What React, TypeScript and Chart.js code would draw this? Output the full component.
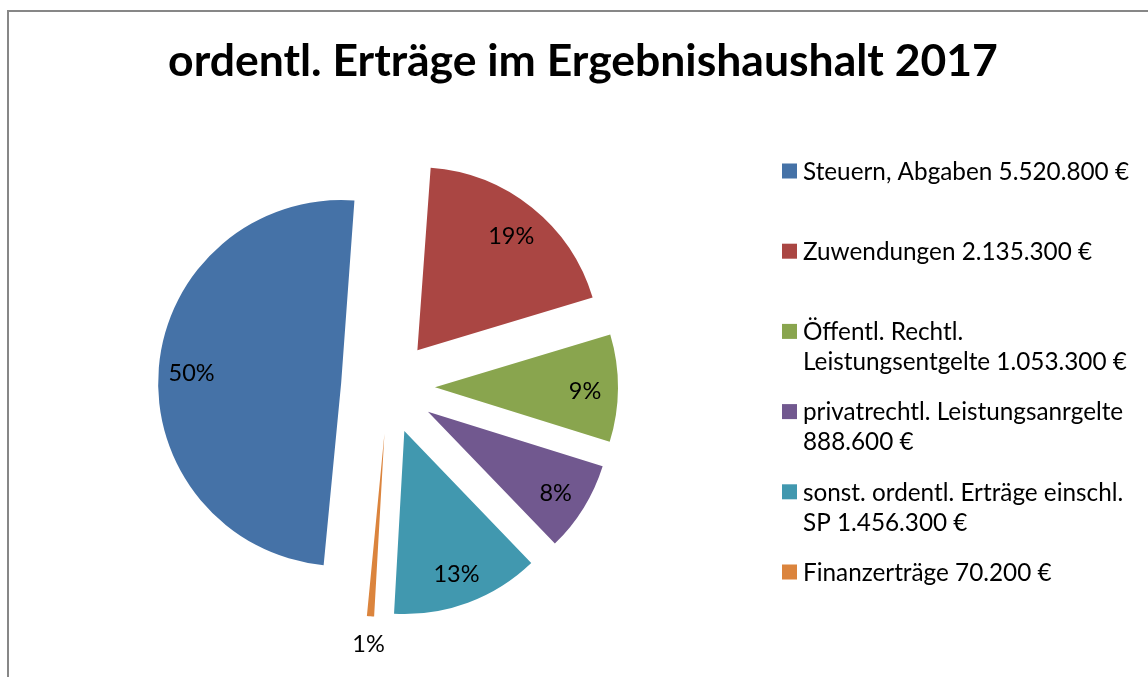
import { useEffect, useRef } from 'react';
import { Chart, registerables } from 'chart.js';

Chart.register(...registerables);

const chartTitle = 'ordentl. Erträge im Ergebnishaushalt 2017';
const categories = [
  'Steuern, Abgaben',
  'Zuwendungen',
  'Öffentl. Rechtl. Leistungsentgelte',
  'privatrechtl. Leistungsanrgelte',
  'sonst. ordentl. Erträge einschl. SP',
  'Finanzerträge',
];
const amounts = [5520800, 2135300, 1053300, 888600, 1456300, 70200];
const sliceColors = ['#4572A7', '#AA4643', '#89A54E', '#71588F', '#4198AF', '#DB843D'];

const EXPLODE = 47;
const FONT = 'Lato, "Open Sans", sans-serif';

function fmtEuro(n: number): string {
  return String(n).replace(/\B(?=(\d{3})+(?!\d))/g, '.') + ' €';
}

const total = amounts.reduce((a, b) => a + b, 0);

const frameAndTitle = {
  id: 'frameAndTitle',
  beforeDraw(chart: any) {
    const ctx = chart.ctx;
    ctx.save();
    ctx.fillStyle = '#ffffff';
    ctx.fillRect(0, 0, chart.width, chart.height);
    ctx.strokeStyle = '#878787';
    ctx.lineWidth = 2;
    ctx.beginPath();
    ctx.moveTo(8, chart.height + 5);
    ctx.lineTo(8, 11);
    ctx.lineTo(chart.width + 5, 11);
    ctx.stroke();
    ctx.restore();
  },
  afterDraw(chart: any) {
    const ctx = chart.ctx;
    ctx.save();
    ctx.fillStyle = '#000';
    ctx.font = `bold 44.5px ${FONT}`;
    ctx.textAlign = 'center';
    ctx.textBaseline = 'alphabetic';
    ctx.fillText(chartTitle, 583, 76);

    // legend
    ctx.font = `24.3px ${FONT}`;
    ctx.textAlign = 'left';
    ctx.textBaseline = 'middle';
    const textX = 803;
    const maxW = 340;
    categories.forEach((name, i) => {
      const text = `${name} ${fmtEuro(amounts[i])}`;
      const words = text.split(' ');
      const lines: string[] = [];
      let cur = '';
      words.forEach((w) => {
        const test = cur ? cur + ' ' + w : w;
        if (ctx.measureText(test).width > maxW && cur) {
          lines.push(cur);
          cur = w;
        } else {
          cur = test;
        }
      });
      if (cur) lines.push(cur);
      const y0 = 171 + i * 80.2;
      ctx.fillStyle = sliceColors[i];
      ctx.fillRect(782, y0 - 7.5, 15, 15);
      ctx.fillStyle = '#000';
      lines.forEach((ln, j) => ctx.fillText(ln, textX, y0 + 1 + j * 30));
    });
    ctx.restore();
  },
};

const explodePlugin = {
  id: 'explode',
  beforeDatasetDraw(chart: any, args: any) {
    const ctx = chart.ctx;
    args.meta.data.forEach((arc: any) => {
      const mid = (arc.startAngle + arc.endAngle) / 2;
      ctx.save();
      ctx.translate(Math.cos(mid) * EXPLODE, Math.sin(mid) * EXPLODE);
      arc.draw(ctx);
      ctx.restore();
    });
    return false;
  },
  afterDatasetsDraw(chart: any) {
    const ctx = chart.ctx;
    const meta = chart.getDatasetMeta(0);
    ctx.save();
    ctx.fillStyle = '#000';
    ctx.font = `23.5px ${FONT}`;
    ctx.textAlign = 'center';
    ctx.textBaseline = 'middle';
    meta.data.forEach((arc: any, i: number) => {
      const mid = (arc.startAngle + arc.endAngle) / 2;
      const frac = amounts[i] / total;
      const cx = arc.x + Math.cos(mid) * EXPLODE;
      const cy = arc.y + Math.sin(mid) * EXPLODE;
      const dist = frac < 0.03 ? arc.outerRadius + 25 : arc.outerRadius * 0.82;
      ctx.fillText(
        `${Math.round(frac * 100)}%`,
        cx + Math.cos(mid) * dist,
        cy + Math.sin(mid) * dist + 3
      );
    });
    ctx.restore();
  },
};

export default function App() {
  const ref = useRef<HTMLCanvasElement>(null);
  useEffect(() => {
    const chart = new Chart(ref.current!, {
      type: 'pie',
      data: {
        labels: categories,
        datasets: [
          {
            data: amounts,
            backgroundColor: sliceColors,
            borderWidth: 0,
            radius: 183,
          } as any,
        ],
      },
      options: {
        responsive: false,
        animation: false,
        rotation: 185.5,
        layout: { padding: { left: 138, right: 510, top: 137, bottom: 40 } },
        plugins: {
          legend: { display: false },
          title: { display: false },
          tooltip: { enabled: false },
        },
      },
      plugins: [frameAndTitle, explodePlugin],
    });
    return () => chart.destroy();
  }, []);
  return (
    <canvas
      ref={ref}
      width={1148}
      height={677}
      style={{ position: 'absolute', left: 0, top: 0, display: 'block' }}
    />
  );
}
